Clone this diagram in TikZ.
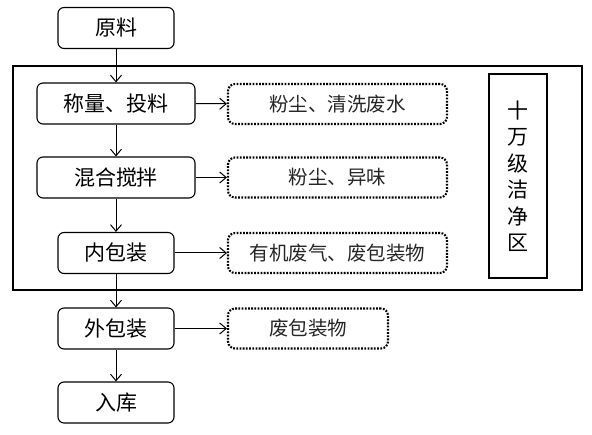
\documentclass[tikz,border=0pt]{standalone}
\usepackage{fontspec}
\setmainfont{Noto Sans CJK SC}
\usetikzlibrary{arrows.meta}
\tikzset{
  proc/.style={draw, line width=1.1pt, rounded corners=6pt, minimum height=41pt, inner sep=0pt, font=\fontsize{21}{25}\selectfont},
  waste/.style={draw, line width=2.1pt, dash pattern=on 1.8pt off 1.4pt, rounded corners=7pt, minimum height=40pt, minimum width=219pt, inner sep=0pt, font=\fontsize{19.5}{23}\selectfont, text=black!85},
  zone/.style={draw, line width=2pt, minimum width=58pt, minimum height=204pt, inner sep=0pt, align=center, font=\fontsize{21}{26.5}\selectfont},
  arr/.style={-{Straight Barb[length=6.5pt,width=11pt,line width=1pt]}, line width=1pt},
}
\begin{document}
\begin{tikzpicture}[x=1pt,y=-1pt]
\useasboundingbox (0,0) rectangle (592,435);
\draw[line width=2pt] (13,66) rectangle (582,290);
\node[proc, minimum width=116pt] (yl) at (116,28) {原料};
\node[proc, minimum width=158pt] (cl) at (116,103.5) {称量、投料};
\node[proc, minimum width=158pt] (hh) at (116,177.5) {混合搅拌};
\node[proc, minimum width=116pt] (nb) at (116,253) {内包装};
\node[proc, minimum width=116pt] (wb) at (116,328.5) {外包装};
\node[proc, minimum width=116pt] (rk) at (116,402.5) {入库};
\node[waste] (w1) at (337.5,104) {粉尘、清洗废水};
\node[waste] (w2) at (337.5,177.5) {粉尘、异味};
\node[waste] (w3) at (337.5,253) {有机废气、废包装物};
\node[waste, minimum width=160pt] (w4) at (308,328.5) {废包装物};
\node[zone] (z) at (518,176) {十\\万\\级\\洁\\净\\区};
\draw[arr] (yl) -- (cl);
\draw[arr] (cl) -- (hh);
\draw[arr] (hh) -- (nb);
\draw[arr] (nb) -- (wb);
\draw[arr] (wb) -- (rk);
\draw[arr] (cl) -- (w1);
\draw[arr] (hh) -- (w2);
\draw[arr] (nb) -- (w3);
\draw[arr] (wb) -- (w4);
\end{tikzpicture}
\end{document}
